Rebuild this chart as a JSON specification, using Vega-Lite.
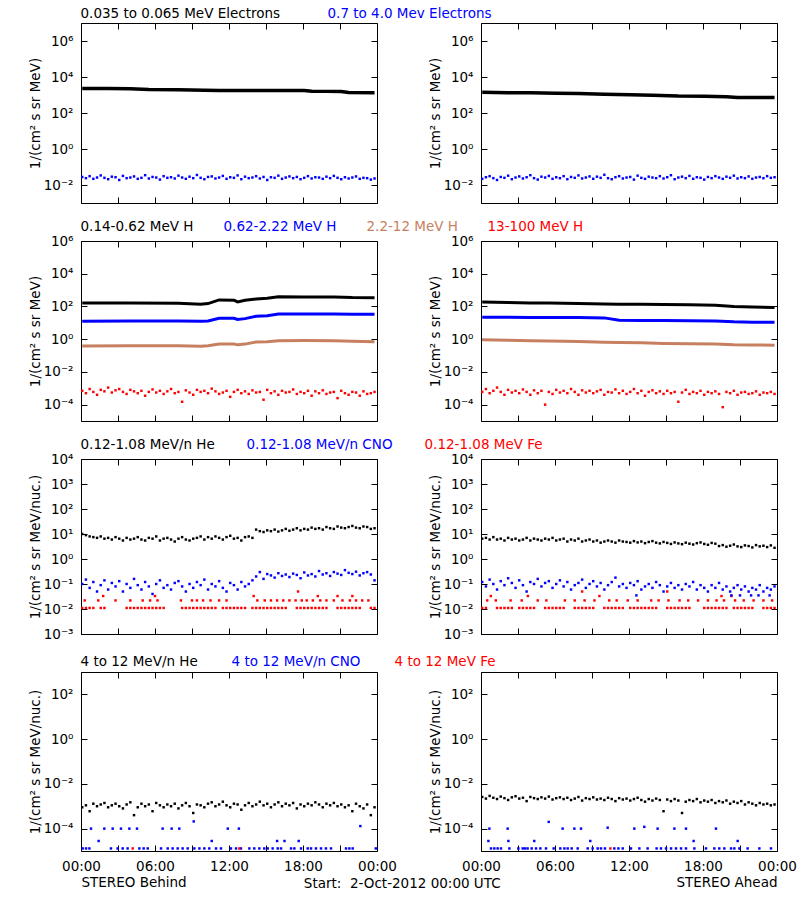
{
"$schema": "https://vega.github.io/schema/vega-lite/v6.json",
"padding": {"left": 27, "top": 7, "right": 6, "bottom": 6},
"background": "white",
"title": {"text": "Start:\u00a0\u00a02-Oct-2012 00:00 UTC", "orient": "bottom", "anchor": "middle", "offset": -12, "dx": -10, "fontSize": 13.5, "fontWeight": "normal", "font": "DejaVu Sans", "color": "#000000"},
"datasets": {
"r1L": [
{"t":0.1,"a":2300,"b":0.028},{"t":0.4,"b":0.024},{"t":0.7,"b":0.031},{"t":1.0,"b":0.022},{"t":1.3,"b":0.026},{"t":1.6,"b":0.034},{"t":1.9,"b":0.025},{"t":2.2,"a":2300,"b":0.021},{"t":2.5,"b":0.029},{"t":2.8,"b":0.027},
{"t":3.1,"b":0.019},{"t":3.4,"b":0.032},{"t":3.7,"b":0.024},{"t":4.0,"a":2250,"b":0.026},{"t":4.3,"b":0.030},{"t":4.6,"b":0.022},{"t":4.9,"b":0.025},{"t":5.2,"b":0.035},{"t":5.5,"a":2050,"b":0.023},{"t":5.8,"b":0.028},
{"t":6.1,"b":0.026},{"t":6.4,"b":0.020},{"t":6.7,"b":0.031},{"t":7.0,"b":0.025},{"t":7.3,"b":0.027},{"t":7.6,"b":0.023},{"t":7.9,"a":1950,"b":0.033},{"t":8.2,"b":0.026},{"t":8.5,"b":0.022},{"t":8.8,"b":0.029},
{"t":9.1,"b":0.024},{"t":9.4,"b":0.036},{"t":9.7,"b":0.025},{"t":10.0,"a":1850,"b":0.021},{"t":10.3,"b":0.028},{"t":10.6,"b":0.030},{"t":10.9,"b":0.023},{"t":11.2,"a":1800,"b":0.026},{"t":11.5,"b":0.032},{"t":11.8,"b":0.022},
{"t":12.1,"b":0.027},{"t":12.4,"b":0.025},{"t":12.7,"b":0.034},{"t":13.0,"a":1800,"b":0.021},{"t":13.3,"b":0.029},{"t":13.6,"b":0.024},{"t":13.9,"b":0.026},{"t":14.2,"b":0.031},{"t":14.5,"b":0.023},{"t":14.8,"a":1780,"b":0.028},
{"t":15.1,"b":0.019},{"t":15.4,"b":0.027},{"t":15.7,"b":0.025},{"t":16.0,"b":0.033},{"t":16.3,"b":0.022},{"t":16.6,"b":0.026},{"t":16.9,"a":1760,"b":0.030},{"t":17.2,"b":0.024},{"t":17.5,"b":0.028},{"t":17.8,"b":0.021},
{"t":18.1,"a":1760,"b":0.025},{"t":18.4,"b":0.031},{"t":18.7,"a":1600,"b":0.023},{"t":19.0,"b":0.027},{"t":19.3,"b":0.026},{"t":19.6,"b":0.022},{"t":19.9,"a":1590,"b":0.029},{"t":20.2,"b":0.024},{"t":20.5,"b":0.032},{"t":20.8,"b":0.025},
{"t":21.1,"a":1560,"b":0.021},{"t":21.4,"b":0.027},{"t":21.7,"a":1370,"b":0.023},{"t":22.0,"b":0.026},{"t":22.3,"b":0.030},{"t":22.6,"b":0.022},{"t":22.9,"b":0.025},{"t":23.2,"b":0.024},{"t":23.5,"b":0.020},{"t":23.8,"a":1330,"b":0.023}
],
"r1R": [
{"t":0.1,"a":1400,"b":0.022},{"t":0.4,"b":0.027},{"t":0.7,"b":0.031},{"t":1.0,"b":0.024},{"t":1.3,"b":0.019},{"t":1.6,"b":0.028},{"t":1.9,"b":0.025},{"t":2.2,"a":1350,"b":0.033},{"t":2.5,"b":0.021},{"t":2.8,"b":0.026},
{"t":3.1,"b":0.030},{"t":3.4,"b":0.023},{"t":3.7,"b":0.027},{"t":4.0,"a":1320,"b":0.035},{"t":4.3,"b":0.024},{"t":4.6,"b":0.020},{"t":4.9,"b":0.029},{"t":5.2,"b":0.026},{"t":5.5,"b":0.032},{"t":5.8,"b":0.022},
{"t":6.1,"a":1250,"b":0.027},{"t":6.4,"b":0.024},{"t":6.7,"b":0.031},{"t":7.0,"b":0.021},{"t":7.3,"b":0.028},{"t":7.6,"b":0.025},{"t":7.9,"a":1200,"b":0.034},{"t":8.2,"b":0.023},{"t":8.5,"b":0.026},{"t":8.8,"b":0.030},
{"t":9.1,"b":0.022},{"t":9.4,"b":0.029},{"t":9.7,"b":0.025},{"t":10.0,"a":1100,"b":0.037},{"t":10.3,"b":0.024},{"t":10.6,"b":0.021},{"t":10.9,"b":0.027},{"t":11.2,"b":0.031},{"t":11.5,"b":0.023},{"t":11.8,"b":0.026},
{"t":12.1,"a":1030,"b":0.028},{"t":12.4,"b":0.020},{"t":12.7,"b":0.033},{"t":13.0,"b":0.025},{"t":13.3,"b":0.022},{"t":13.6,"b":0.029},{"t":13.9,"a":980,"b":0.026},{"t":14.2,"b":0.024},{"t":14.5,"b":0.031},{"t":14.8,"b":0.023},
{"t":15.1,"b":0.027},{"t":15.4,"b":0.035},{"t":15.7,"b":0.021},{"t":16.0,"a":880,"b":0.026},{"t":16.3,"b":0.029},{"t":16.6,"b":0.024},{"t":16.9,"b":0.032},{"t":17.2,"b":0.022},{"t":17.5,"b":0.027},{"t":17.8,"b":0.025},
{"t":18.1,"a":860,"b":0.020},{"t":18.4,"b":0.028},{"t":18.7,"b":0.024},{"t":19.0,"b":0.031},{"t":19.3,"b":0.026},{"t":19.6,"b":0.022},{"t":19.9,"a":800,"b":0.029},{"t":20.2,"b":0.025},{"t":20.5,"b":0.033},{"t":20.8,"a":720,"b":0.023},
{"t":21.1,"b":0.027},{"t":21.4,"b":0.024},{"t":21.7,"b":0.030},{"t":22.0,"b":0.022},{"t":22.3,"b":0.026},{"t":22.6,"b":0.028},{"t":22.9,"b":0.024},{"t":23.2,"b":0.031},{"t":23.5,"b":0.025},{"t":23.8,"a":720,"b":0.027}
],
"r2L": [
{"t":0.1,"a":160,"b":12.5,"c":0.38,"d":0.0007},{"t":0.4,"d":0.0005},{"t":0.7,"d":0.0009},{"t":1.0,"d":0.0006},{"t":1.3,"d":0.0004},{"t":1.6,"d":0.0008},{"t":1.9,"d":0.00065},{"t":2.2,"d":0.0011},{"t":2.5,"d":0.00055},{"t":2.8,"d":0.00075},
{"t":3.1,"d":0.0009},{"t":3.4,"d":0.0006},{"t":3.7,"d":0.00045},{"t":4.0,"a":160,"b":13,"c":0.40,"d":0.0008},{"t":4.3,"d":0.00065},{"t":4.6,"d":0.0005},{"t":4.9,"d":0.0007},{"t":5.2,"d":0.00035},{"t":5.5,"d":0.0006},{"t":5.8,"d":0.00085},
{"t":6.1,"d":0.00055},{"t":6.4,"d":0.0007},{"t":6.7,"d":0.00045},{"t":7.0,"d":0.00065},{"t":7.3,"d":0.0009},{"t":7.6,"d":0.0005},{"t":7.9,"a":155,"b":12.8,"c":0.40,"d":0.0006},{"t":8.2,"d":0.00015},{"t":8.5,"d":0.00075},{"t":8.8,"d":0.00055},
{"t":9.1,"d":0.0004},{"t":9.4,"d":0.0008},{"t":9.7,"a":135,"b":12.3,"c":0.37,"d":0.0006},{"t":10.0,"d":0.0007},{"t":10.3,"a":150,"b":13,"c":0.40,"d":0.0005},{"t":10.6,"d":0.00095},{"t":10.9,"d":0.00065},{"t":11.2,"a":250,"b":19,"c":0.50,"d":0.00045},{"t":11.5,"d":0.00055},{"t":11.8,"d":0.0007},
{"t":12.1,"d":0.0003},{"t":12.4,"a":240,"b":19,"c":0.50,"d":0.0006},{"t":12.7,"a":190,"b":16,"c":0.45,"d":0.0008},{"t":13.0,"d":0.0005},{"t":13.3,"a":240,"b":18,"c":0.50,"d":0.00065},{"t":13.6,"d":0.00045},{"t":13.9,"d":0.00075},{"t":14.2,"a":290,"b":25,"c":0.68,"d":0.00055},{"t":14.5,"d":0.0006},{"t":14.8,"d":0.0002},
{"t":15.1,"a":320,"b":27,"c":0.70,"d":0.0008},{"t":15.4,"d":0.0005},{"t":15.7,"d":0.00065},{"t":16.0,"a":390,"b":34,"c":0.80,"d":0.0004},{"t":16.3,"d":0.0007},{"t":16.6,"d":0.00055},{"t":16.9,"d":0.0006},{"t":17.2,"d":0.00085},{"t":17.5,"d":0.00045},{"t":17.8,"d":0.0006},
{"t":18.1,"a":380,"b":34,"c":0.82,"d":0.0005},{"t":18.4,"d":0.0007},{"t":18.7,"d":0.00035},{"t":19.0,"d":0.00065},{"t":19.3,"d":0.0005},{"t":19.6,"d":0.00075},{"t":19.9,"d":0.00045},{"t":20.2,"d":0.00055},{"t":20.5,"a":380,"b":34,"c":0.80,"d":0.0006},{"t":20.8,"d":0.00025},
{"t":21.1,"d":0.0007},{"t":21.4,"d":0.0005},{"t":21.7,"d":0.0004},{"t":22.0,"a":350,"b":33,"c":0.75,"d":0.0006},{"t":22.3,"d":0.00055},{"t":22.6,"d":0.00035},{"t":22.9,"d":0.00065},{"t":23.2,"d":0.00045},{"t":23.5,"d":0.0005},{"t":23.8,"a":340,"b":33,"c":0.70,"d":0.0006}
],
"r2R": [
{"t":0.1,"a":185,"b":22,"c":0.92,"d":0.0006},{"t":0.4,"d":0.0009},{"t":0.7,"d":0.0005},{"t":1.0,"d":0.0007},{"t":1.3,"d":0.0011},{"t":1.6,"d":0.0006},{"t":1.9,"d":0.0004},{"t":2.2,"a":175,"b":21.8,"c":0.85,"d":0.0008},{"t":2.5,"d":0.00055},{"t":2.8,"d":0.0007},
{"t":3.1,"d":0.0005},{"t":3.4,"d":0.00085},{"t":3.7,"d":0.0006},{"t":4.0,"a":165,"b":21.5,"c":0.80,"d":0.0004},{"t":4.3,"d":0.00075},{"t":4.6,"d":0.0005},{"t":4.9,"d":0.0007},{"t":5.2,"d":0.0001},{"t":5.5,"a":160,"b":21.2,"c":0.78,"d":0.0006},{"t":5.8,"d":0.00045},
{"t":6.1,"d":0.0008},{"t":6.4,"d":0.00055},{"t":6.7,"d":0.0007},{"t":7.0,"d":0.0005},{"t":7.3,"d":0.0009},{"t":7.6,"d":0.0006},{"t":7.9,"a":150,"b":21,"c":0.72,"d":0.0004},{"t":8.2,"d":0.00075},{"t":8.5,"d":0.00055},{"t":8.8,"d":0.0007},
{"t":9.1,"d":0.0005},{"t":9.4,"d":0.00065},{"t":9.7,"d":0.0008},{"t":10.0,"a":142,"b":20,"c":0.66,"d":0.0004},{"t":10.3,"d":0.0006},{"t":10.6,"d":0.00055},{"t":10.9,"d":0.00085},{"t":11.2,"a":138,"b":14.5,"c":0.62,"d":0.0005},{"t":11.5,"d":0.0007},{"t":11.8,"d":0.00045},
{"t":12.1,"d":0.0006},{"t":12.4,"d":0.0009},{"t":12.7,"d":0.0005},{"t":13.0,"a":135,"b":14,"c":0.60,"d":0.0007},{"t":13.3,"d":0.00035},{"t":13.6,"d":0.0006},{"t":13.9,"d":0.00075},{"t":14.2,"d":0.0005},{"t":14.5,"d":0.00065},{"t":14.8,"a":130,"b":14,"c":0.55,"d":0.00045},
{"t":15.1,"d":0.0007},{"t":15.4,"d":0.0005},{"t":15.7,"d":0.0006},{"t":16.0,"d":0.00015},{"t":16.3,"d":0.00055},{"t":16.6,"d":0.0008},{"t":16.9,"a":125,"b":13.5,"c":0.52,"d":0.00045},{"t":17.2,"d":0.0006},{"t":17.5,"d":0.0005},{"t":17.8,"d":0.0007},
{"t":18.1,"d":0.0004},{"t":18.4,"d":0.0006},{"t":18.7,"d":0.0005},{"t":19.0,"a":118,"b":13,"c":0.50,"d":0.00065},{"t":19.3,"d":0.00045},{"t":19.6,"d":0.00007},{"t":19.9,"d":0.0006},{"t":20.2,"d":0.0005},{"t":20.5,"a":100,"b":11.5,"c":0.45,"d":0.0007},{"t":20.8,"d":0.0004},
{"t":21.1,"d":0.00055},{"t":21.4,"d":0.0006},{"t":21.7,"d":0.00045},{"t":22.0,"a":92,"b":11,"c":0.44,"d":0.0005},{"t":22.3,"d":0.00065},{"t":22.6,"d":0.0004},{"t":22.9,"d":0.00055},{"t":23.2,"d":0.0005},{"t":23.5,"d":0.0006},{"t":23.8,"a":85,"b":11,"c":0.43,"d":0.00045}
],
"r3L": [
{"t":0.1,"a":10,"b":0.1,"c":0.011},{"t":0.4,"a":9,"b":0.15,"c":0.011},{"t":0.7,"a":8,"b":0.07,"c":0.011},{"t":1.0,"a":7.5,"b":0.12,"c":0.011},{"t":1.3,"a":7,"b":0.05},{"t":1.6,"a":8,"b":0.09,"c":0.011},{"t":1.9,"a":6.5,"b":0.14,"c":0.011},{"t":2.2,"a":7,"b":0.06},{"t":2.5,"a":6,"b":0.11},{"t":2.8,"a":7.5,"b":0.08},
{"t":3.1,"a":6.5,"b":0.13},{"t":3.4,"a":5.5,"b":0.05},{"t":3.7,"a":7,"b":0.1,"c":0.011},{"t":4.0,"a":6,"b":0.07,"c":0.011},{"t":4.3,"a":6.5,"b":0.16,"c":0.011},{"t":4.6,"a":7.5,"b":0.09,"c":0.011},{"t":4.9,"a":6,"b":0.06,"c":0.011},{"t":5.2,"a":5.5,"b":0.12,"c":0.011},{"t":5.5,"a":7,"b":0.08,"c":0.011},{"t":5.8,"a":6.5,"b":0.04,"c":0.011},
{"t":6.1,"a":8,"b":0.1,"c":0.011},{"t":6.4,"a":5.5,"b":0.14,"c":0.011},{"t":6.7,"a":6.5,"b":0.07,"c":0.011},{"t":7.0,"a":7,"b":0.09},{"t":7.3,"a":6,"b":0.06},{"t":7.6,"a":5,"b":0.11},{"t":7.9,"a":6.5,"b":0.13},{"t":8.2,"a":7.5,"b":0.08,"c":0.011},{"t":8.5,"a":6,"b":0.05,"c":0.011},{"t":8.8,"a":5.5,"b":0.1,"c":0.011},
{"t":9.1,"a":6.5,"b":0.07,"c":0.011},{"t":9.4,"a":7,"b":0.12,"c":0.011},{"t":9.7,"a":8,"b":0.09,"c":0.011},{"t":10.0,"a":6,"b":0.15,"c":0.011},{"t":10.3,"a":7.5,"b":0.06,"c":0.011},{"t":10.6,"a":6.5,"b":0.1,"c":0.011},{"t":10.9,"a":8,"b":0.08,"c":0.011},{"t":11.2,"a":7,"b":0.13},{"t":11.5,"a":6,"b":0.07,"c":0.011},{"t":11.8,"a":7.5,"b":0.05,"c":0.011},
{"t":12.1,"a":8.5,"b":0.11,"c":0.011},{"t":12.4,"a":6.5,"b":0.09,"c":0.011},{"t":12.7,"a":7,"b":0.06,"c":0.011},{"t":13.0,"a":5.5,"b":0.12,"c":0.011},{"t":13.3,"a":7.5,"b":0.08,"c":0.011},{"t":13.6,"a":8,"b":0.1},{"t":13.9,"a":7,"b":0.14,"c":0.011},{"t":14.2,"a":15,"b":0.2,"c":0.011},{"t":14.5,"a":13,"b":0.3,"c":0.011},{"t":14.8,"a":12,"b":0.16,"c":0.011},
{"t":15.1,"a":14,"b":0.25,"c":0.011},{"t":15.4,"a":13,"b":0.22,"c":0.011},{"t":15.7,"a":15,"b":0.18,"c":0.011},{"t":16.0,"a":12.5,"b":0.27,"c":0.011},{"t":16.3,"a":14,"b":0.21,"c":0.011},{"t":16.6,"a":16,"b":0.24,"c":0.011},{"t":16.9,"a":13.5,"b":0.19},{"t":17.2,"a":15,"b":0.26},{"t":17.5,"a":17,"b":0.23,"c":0.011},{"t":17.8,"a":14,"b":0.17,"c":0.011},
{"t":18.1,"a":16,"b":0.29,"c":0.011},{"t":18.4,"a":15,"b":0.22,"c":0.011},{"t":18.7,"a":18,"b":0.25,"c":0.011},{"t":19.0,"a":16,"b":0.2,"c":0.011},{"t":19.3,"a":17,"b":0.33,"c":0.011},{"t":19.6,"a":15,"b":0.24,"c":0.011},{"t":19.9,"a":19,"b":0.27,"c":0.011},{"t":20.2,"a":17,"b":0.21},{"t":20.5,"a":16,"b":0.3},{"t":20.8,"a":20,"b":0.26,"c":0.011},
{"t":21.1,"a":18,"b":0.23,"c":0.011},{"t":21.4,"a":17,"b":0.36,"c":0.011},{"t":21.7,"a":19,"b":0.28,"c":0.011},{"t":22.0,"a":21,"b":0.25,"c":0.011},{"t":22.3,"a":18,"b":0.31,"c":0.011},{"t":22.6,"a":17,"b":0.22,"c":0.011},{"t":22.9,"a":20,"b":0.27},{"t":23.2,"a":19,"b":0.3},{"t":23.5,"a":16,"b":0.24,"c":0.011},{"t":23.8,"a":17,"b":0.14,"c":0.011},
{"t":0.3,"c":0.022},{"t":1.4,"c":0.022},{"t":2.8,"c":0.022},{"t":4.0,"c":0.022},{"t":5.0,"c":0.022},{"t":5.6,"c":0.022},{"t":6.2,"c":0.022},{"t":8.1,"c":0.022},{"t":9.0,"c":0.022},{"t":9.4,"c":0.022},{"t":9.9,"c":0.022},{"t":10.5,"c":0.022},{"t":11.2,"c":0.022},{"t":11.8,"c":0.022},{"t":14.3,"c":0.022},{"t":14.9,"c":0.022},{"t":15.4,"c":0.022},{"t":15.9,"c":0.022},{"t":16.4,"c":0.022},{"t":16.9,"c":0.022},{"t":17.4,"c":0.022},{"t":17.9,"c":0.022},{"t":18.3,"c":0.022},{"t":18.8,"c":0.022},{"t":19.4,"c":0.022},{"t":19.9,"c":0.022},{"t":20.5,"c":0.022},{"t":21.2,"c":0.022},{"t":21.8,"c":0.022},{"t":22.3,"c":0.022},{"t":22.8,"c":0.022},{"t":23.3,"c":0.022},
{"t":1.8,"c":0.033},{"t":6.0,"c":0.033},{"t":14.0,"c":0.033},{"t":19.2,"c":0.033},{"t":20.8,"c":0.033},{"t":22.0,"c":0.033},{"t":17.6,"c":0.05}
],
"r3R": [
{"t":0.1,"a":6.5,"b":0.12,"c":0.011},{"t":0.4,"a":7,"b":0.08,"c":0.011},{"t":0.7,"a":6,"b":0.15},{"t":1.0,"a":7.5,"b":0.1},{"t":1.3,"a":6,"b":0.06,"c":0.011},{"t":1.6,"a":6.5,"b":0.13,"c":0.011},{"t":1.9,"a":5.5,"b":0.09,"c":0.011},{"t":2.2,"a":7,"b":0.17,"c":0.011},{"t":2.5,"a":6,"b":0.11,"c":0.011},{"t":2.8,"a":6.5,"b":0.07},
{"t":3.1,"a":5.5,"b":0.14,"c":0.011},{"t":3.4,"a":6,"b":0.09,"c":0.011},{"t":3.7,"a":7,"b":0.05,"c":0.011},{"t":4.0,"a":5.5,"b":0.12,"c":0.011},{"t":4.3,"a":6.5,"b":0.1,"c":0.011},{"t":4.6,"a":6,"b":0.16},{"t":4.9,"a":5.5,"b":0.08},{"t":5.2,"a":6.5,"b":0.11,"c":0.011},{"t":5.5,"a":6,"b":0.13,"c":0.011},{"t":5.8,"a":7,"b":0.07,"c":0.011},
{"t":6.1,"a":5.5,"b":0.1,"c":0.011},{"t":6.4,"a":6,"b":0.14,"c":0.011},{"t":6.7,"a":6.5,"b":0.08,"c":0.011},{"t":7.0,"a":5,"b":0.12},{"t":7.3,"a":6,"b":0.06},{"t":7.6,"a":5.5,"b":0.09,"c":0.011},{"t":7.9,"a":6.5,"b":0.11,"c":0.011},{"t":8.2,"a":5,"b":0.15,"c":0.011},{"t":8.5,"a":5.5,"b":0.07,"c":0.011},{"t":8.8,"a":6,"b":0.1,"c":0.011},
{"t":9.1,"a":5,"b":0.13,"c":0.011},{"t":9.4,"a":5.5,"b":0.08},{"t":9.7,"a":4.5,"b":0.11},{"t":10.0,"a":5,"b":0.06,"c":0.011},{"t":10.3,"a":5.5,"b":0.09,"c":0.011},{"t":10.6,"a":5,"b":0.12,"c":0.011},{"t":10.9,"a":4.5,"b":0.18,"c":0.011},{"t":11.2,"a":5.5,"b":0.08,"c":0.011},{"t":11.5,"a":5,"b":0.1,"c":0.011},{"t":11.8,"a":4.8,"b":0.07},
{"t":12.1,"a":4.5,"b":0.11,"c":0.011},{"t":12.4,"a":5.2,"b":0.09,"c":0.011},{"t":12.7,"a":4.6,"b":0.13,"c":0.011},{"t":13.0,"a":5,"b":0.06,"c":0.011},{"t":13.3,"a":4.3,"b":0.08,"c":0.011},{"t":13.6,"a":4.8,"b":0.1,"c":0.011},{"t":13.9,"a":5.2,"b":0.07,"c":0.011},{"t":14.2,"a":4.5,"b":0.12,"c":0.011},{"t":14.5,"a":4.2,"b":0.09},{"t":14.8,"a":4.8,"b":0.05},
{"t":15.1,"a":4.4,"b":0.08,"c":0.011},{"t":15.4,"a":4,"b":0.11,"c":0.011},{"t":15.7,"a":4.6,"b":0.07,"c":0.011},{"t":16.0,"a":4.2,"b":0.09,"c":0.011},{"t":16.3,"a":3.9,"b":0.06,"c":0.011},{"t":16.6,"a":4.5,"b":0.1,"c":0.011},{"t":16.9,"a":4.1,"b":0.08,"c":0.011},{"t":17.2,"a":3.8,"b":0.12},{"t":17.5,"a":4.3,"b":0.06},{"t":17.8,"a":4.6,"b":0.09},
{"t":18.1,"a":4,"b":0.07,"c":0.011},{"t":18.4,"a":3.7,"b":0.05,"c":0.011},{"t":18.7,"a":4.4,"b":0.09,"c":0.011},{"t":19.0,"a":4.1,"b":0.07,"c":0.011},{"t":19.3,"a":3.3,"b":0.11,"c":0.011},{"t":19.6,"a":3.6,"b":0.06,"c":0.011},{"t":19.9,"a":3.1,"b":0.08,"c":0.011},{"t":20.2,"a":3.4,"b":0.05},{"t":20.5,"a":3.8,"b":0.07,"c":0.011},{"t":20.8,"a":3.2,"b":0.09,"c":0.011},
{"t":21.1,"a":3,"b":0.06,"c":0.011},{"t":21.4,"a":3.5,"b":0.08,"c":0.011},{"t":21.7,"a":3.3,"b":0.05,"c":0.011},{"t":22.0,"a":2.9,"b":0.07,"c":0.011},{"t":22.3,"a":3.6,"b":0.06},{"t":22.6,"a":3.2,"b":0.09},{"t":22.9,"a":3.4,"b":0.05,"c":0.011},{"t":23.2,"a":3,"b":0.07,"c":0.011},{"t":23.5,"a":3.5,"b":0.06,"c":0.011},{"t":23.8,"a":2.8,"b":0.08,"c":0.011},
{"t":0.5,"c":0.022},{"t":1.2,"c":0.022},{"t":2.4,"c":0.022},{"t":3.3,"c":0.022},{"t":4.6,"c":0.022},{"t":5.3,"c":0.022},{"t":6.8,"c":0.022},{"t":7.6,"c":0.022},{"t":8.4,"c":0.022},{"t":9.2,"c":0.022},{"t":10.4,"c":0.022},{"t":11.0,"c":0.022},{"t":11.9,"c":0.022},{"t":12.7,"c":0.022},{"t":13.8,"c":0.022},{"t":14.4,"c":0.022},{"t":15.2,"c":0.022},{"t":16.1,"c":0.022},{"t":16.8,"c":0.022},{"t":17.6,"c":0.022},{"t":18.4,"c":0.022},{"t":19.1,"c":0.022},{"t":19.7,"c":0.022},{"t":20.6,"c":0.022},{"t":21.3,"c":0.022},{"t":22.1,"c":0.022},{"t":22.9,"c":0.022},{"t":23.6,"c":0.022},
{"t":0.8,"c":0.033},{"t":3.8,"c":0.033},{"t":9.6,"c":0.033},{"t":19.5,"c":0.033},{"t":20.3,"c":0.033},{"t":8.2,"c":0.05},{"t":15.1,"c":0.05},
{"t":12.6,"b":0.035},{"t":20.3,"b":0.035},{"t":21.0,"b":0.035},{"t":21.9,"b":0.035},{"t":22.5,"b":0.035},{"t":23.4,"b":0.035}
],
"r4L": [
{"t":0.1,"a":0.0009},{"t":0.4,"a":0.0011},{"t":0.7,"a":0.0006},{"t":1.0,"a":0.0013},{"t":1.3,"a":0.001},{"t":1.6,"a":0.0012},{"t":1.9,"a":0.0014},{"t":2.2,"a":0.0009},{"t":2.5,"a":0.0011},{"t":2.8,"a":0.0013},
{"t":3.1,"a":0.001},{"t":3.4,"a":0.0008},{"t":3.7,"a":0.0012},{"t":4.0,"a":0.0015},{"t":4.3,"a":0.0004},{"t":4.6,"a":0.0009},{"t":4.9,"a":0.0013},{"t":5.2,"a":0.001},{"t":5.5,"a":0.0012},{"t":5.8,"a":0.0006},
{"t":6.1,"a":0.0014},{"t":6.4,"a":0.0011},{"t":6.7,"a":0.0009},{"t":7.0,"a":0.0012},{"t":7.3,"a":0.001},{"t":7.6,"a":0.0013},{"t":7.9,"a":0.0008},{"t":8.2,"a":0.0011},{"t":8.5,"a":0.0014},{"t":8.8,"a":0.001},
{"t":9.1,"a":0.0005},{"t":9.4,"a":0.0012},{"t":9.7,"a":0.0011},{"t":10.0,"a":0.0009},{"t":10.3,"a":0.0013},{"t":10.6,"a":0.0015},{"t":10.9,"a":0.001},{"t":11.2,"a":0.0012},{"t":11.5,"a":0.0016},{"t":11.8,"a":0.0011},
{"t":12.1,"a":0.0009},{"t":12.4,"a":0.0013},{"t":12.7,"a":0.0012},{"t":13.0,"a":0.0007},{"t":13.3,"a":0.0011},{"t":13.6,"a":0.0014},{"t":13.9,"a":0.001},{"t":14.2,"a":0.0012},{"t":14.5,"a":0.0016},{"t":14.8,"a":0.0011},
{"t":15.1,"a":0.0013},{"t":15.4,"a":0.0009},{"t":15.7,"a":0.0012},{"t":16.0,"a":0.0015},{"t":16.3,"a":0.001},{"t":16.6,"a":0.0013},{"t":16.9,"a":0.0011},{"t":17.2,"a":0.0014},{"t":17.5,"a":0.0008},{"t":17.8,"a":0.0012},
{"t":18.1,"a":0.001},{"t":18.4,"a":0.0013},{"t":18.7,"a":0.0011},{"t":19.0,"a":0.0015},{"t":19.3,"a":0.0012},{"t":19.6,"a":0.0009},{"t":19.9,"a":0.0013},{"t":20.2,"a":0.0011},{"t":20.5,"a":0.0014},{"t":20.8,"a":0.001},
{"t":21.1,"a":0.0012},{"t":21.4,"a":0.0009},{"t":21.7,"a":0.0011},{"t":22.0,"a":0.0006},{"t":22.3,"a":0.0013},{"t":22.6,"a":0.001},{"t":22.9,"a":0.0008},{"t":23.2,"a":0.0012},{"t":23.5,"a":0.0004},{"t":23.8,"a":0.0009},
{"t":0.81,"b":0.0001},{"t":1.89,"b":0.0001},{"t":2.57,"b":0.0001},{"t":3.24,"b":0.0001},{"t":3.92,"b":0.0001},{"t":4.54,"b":0.0001},{"t":6.62,"b":0.0001},{"t":7.35,"b":0.0001},{"t":7.97,"b":0.0001},{"t":11.9,"b":0.0001},{"t":12.8,"b":0.0001},{"t":9.14,"b":0.00021},{"t":22.65,"b":0.00013},
{"t":1.43,"b":0.000028},{"t":10.6,"b":0.000028},{"t":15.9,"b":0.000028},{"t":16.5,"b":0.000028},{"t":17.65,"b":0.000028},
{"t":0.14,"b":0.000013},{"t":0.41,"b":0.000013},{"t":0.68,"b":0.000013},{"t":2.43,"b":0.000013},{"t":2.97,"b":0.000013},{"t":3.38,"b":0.000013},{"t":3.78,"b":0.000013},{"t":4.73,"b":0.000013},{"t":5.08,"b":0.000013},{"t":5.41,"b":0.000013},{"t":6.49,"b":0.000013},{"t":7.03,"b":0.000013},{"t":7.43,"b":0.000013},{"t":7.84,"b":0.000013},{"t":8.24,"b":0.000013},{"t":8.65,"b":0.000013},{"t":9.19,"b":0.000013},{"t":9.6,"b":0.000013},{"t":10.0,"b":0.000013},{"t":10.4,"b":0.000013},{"t":10.95,"b":0.000013},{"t":11.35,"b":0.000013},{"t":12.16,"b":0.000013},{"t":12.57,"b":0.000013},{"t":12.97,"b":0.000013},{"t":13.65,"b":0.000013},{"t":14.05,"b":0.000013},{"t":14.46,"b":0.000013},{"t":14.86,"b":0.000013},{"t":15.14,"b":0.000013},{"t":15.54,"b":0.000013},{"t":15.95,"b":0.000013},{"t":16.22,"b":0.000013},{"t":17.03,"b":0.000013},{"t":17.3,"b":0.000013},{"t":17.84,"b":0.000013},{"t":18.38,"b":0.000013},{"t":18.65,"b":0.000013},{"t":19.05,"b":0.000013},{"t":19.46,"b":0.000013},{"t":19.86,"b":0.000013},{"t":20.27,"b":0.000013},{"t":21.49,"b":0.000013},{"t":21.76,"b":0.000013},{"t":22.03,"b":0.000013},{"t":23.9,"b":0.000013},
{"t":4.19,"c":0.000013},{"t":12.84,"c":0.000013}
],
"r4R": [
{"t":0.1,"a":0.0026},{"t":0.4,"a":0.0022},{"t":0.7,"a":0.0029},{"t":1.0,"a":0.0024},{"t":1.3,"a":0.0021},{"t":1.6,"a":0.0027},{"t":1.9,"a":0.0023},{"t":2.2,"a":0.0019},{"t":2.5,"a":0.0025},{"t":2.8,"a":0.0028},
{"t":3.1,"a":0.0022},{"t":3.4,"a":0.0024},{"t":3.7,"a":0.0017},{"t":4.0,"a":0.0026},{"t":4.3,"a":0.0023},{"t":4.6,"a":0.0021},{"t":4.9,"a":0.0025},{"t":5.2,"a":0.0022},{"t":5.5,"a":0.0027},{"t":5.8,"a":0.0020},
{"t":6.1,"a":0.0023},{"t":6.4,"a":0.0025},{"t":6.7,"a":0.0021},{"t":7.0,"a":0.0024},{"t":7.3,"a":0.0019},{"t":7.6,"a":0.0022},{"t":7.9,"a":0.0026},{"t":8.2,"a":0.0018},{"t":8.5,"a":0.0023},{"t":8.8,"a":0.0021},
{"t":9.1,"a":0.0025},{"t":9.4,"a":0.0020},{"t":9.7,"a":0.0022},{"t":10.0,"a":0.0019},{"t":10.3,"a":0.0024},{"t":10.6,"a":0.0021},{"t":10.9,"a":0.0017},{"t":11.2,"a":0.0023},{"t":11.5,"a":0.0020},{"t":11.8,"a":0.0022},
{"t":12.1,"a":0.0018},{"t":12.4,"a":0.0021},{"t":12.7,"a":0.0024},{"t":13.0,"a":0.0019},{"t":13.3,"a":0.0016},{"t":13.6,"a":0.0021},{"t":13.9,"a":0.0018},{"t":14.2,"a":0.0022},{"t":14.5,"a":0.0019},{"t":14.8,"a":0.0006},
{"t":15.1,"a":0.0020},{"t":15.4,"a":0.0017},{"t":15.7,"a":0.0021},{"t":16.0,"a":0.0018},{"t":16.3,"a":0.0005},{"t":16.6,"a":0.0016},{"t":16.9,"a":0.0019},{"t":17.2,"a":0.0017},{"t":17.5,"a":0.0021},{"t":17.8,"a":0.0015},
{"t":18.1,"a":0.0018},{"t":18.4,"a":0.0016},{"t":18.7,"a":0.0019},{"t":19.0,"a":0.0014},{"t":19.3,"a":0.0017},{"t":19.6,"a":0.0015},{"t":19.9,"a":0.0018},{"t":20.2,"a":0.0013},{"t":20.5,"a":0.0016},{"t":20.8,"a":0.0014},
{"t":21.1,"a":0.0017},{"t":21.4,"a":0.0012},{"t":21.7,"a":0.0015},{"t":22.0,"a":0.0013},{"t":22.3,"a":0.0011},{"t":22.6,"a":0.0014},{"t":22.9,"a":0.0012},{"t":23.2,"a":0.0013},{"t":23.5,"a":0.0011},{"t":23.8,"a":0.0012},
{"t":0.68,"b":0.0001},{"t":2.16,"b":0.0001},{"t":6.62,"b":0.0001},{"t":7.57,"b":0.0001},{"t":8.11,"b":0.0001},{"t":12.43,"b":0.0001},{"t":14.32,"b":0.0001},{"t":15.68,"b":0.0001},{"t":16.62,"b":0.0001},{"t":19.05,"b":0.0001},{"t":10.27,"b":0.00011},{"t":13.24,"b":0.00012},{"t":5.49,"b":0.0002},
{"t":0.6,"b":0.000028},{"t":2.22,"b":0.000028},{"t":4.32,"b":0.000028},{"t":8.86,"b":0.000028},{"t":17.24,"b":0.000028},{"t":20.81,"b":0.000028},
{"t":0.81,"b":0.000013},{"t":1.08,"b":0.000013},{"t":1.35,"b":0.000013},{"t":1.62,"b":0.000013},{"t":2.3,"b":0.000013},{"t":3.03,"b":0.000013},{"t":3.38,"b":0.000013},{"t":3.57,"b":0.000013},{"t":3.78,"b":0.000013},{"t":4.11,"b":0.000013},{"t":4.46,"b":0.000013},{"t":4.81,"b":0.000013},{"t":5.27,"b":0.000013},{"t":5.89,"b":0.000013},{"t":6.43,"b":0.000013},{"t":6.76,"b":0.000013},{"t":7.03,"b":0.000013},{"t":7.35,"b":0.000013},{"t":7.84,"b":0.000013},{"t":8.65,"b":0.000013},{"t":9.05,"b":0.000013},{"t":9.46,"b":0.000013},{"t":9.73,"b":0.000013},{"t":10.05,"b":0.000013},{"t":10.81,"b":0.000013},{"t":11.14,"b":0.000013},{"t":11.49,"b":0.000013},{"t":12.16,"b":0.000013},{"t":12.84,"b":0.000013},{"t":13.51,"b":0.000013},{"t":14.24,"b":0.000013},{"t":14.59,"b":0.000013},{"t":15.0,"b":0.000013},{"t":15.41,"b":0.000013},{"t":15.81,"b":0.000013},{"t":16.22,"b":0.000013},{"t":16.62,"b":0.000013},{"t":17.3,"b":0.000013},{"t":18.24,"b":0.000013},{"t":18.92,"b":0.000013},{"t":19.32,"b":0.000013},{"t":19.73,"b":0.000013},{"t":20.27,"b":0.000013},{"t":20.54,"b":0.000013},{"t":20.95,"b":0.000013},{"t":21.62,"b":0.000013},{"t":22.57,"b":0.000013},{"t":23.51,"b":0.000013},
{"t":10.49,"c":0.000013}
]
},
"columns": 2,
"spacing": {"row": 38, "column": 104},
"bounds": "flush",
"resolve": {"scale": {"color": "independent"}, "legend": {"color": "independent"}},
"concat": [
 {"width":296,"height":180,"data":{"name":"r1L"},
  "transform":[{"fold":["a","b"],"as":["k","v"]},{"filter":"isValid(datum.v)"}],
  "layer":[
   {"transform":[{"filter":"datum.k == 'a'"}],"mark":{"type":"line","strokeWidth":3.5,"clip":true},
    "encoding":{
     "x":{"field":"t","type":"quantitative","scale":{"domain":[0,24],"nice":false,"zero":false},"axis":{"orient":"bottom","values":[0,3,6,9,12,15,18,21,24],"labels":false,"title":null}},
     "y":{"field":"v","type":"quantitative","scale":{"type":"log","domain":[0.001,10000000],"nice":false},"axis":{"orient":"left","values":[0.01,1,100,10000,1000000],"labelPadding":14,"labelExpr":"'10' + ['⁻⁵','⁻⁴','⁻³','⁻²','⁻¹','⁰','¹','²','³','⁴','⁵','⁶','⁷'][round(log(datum.value) / LN10) + 5]","title":"1/(cm² s sr MeV)","titleX":-46,"titleBaseline":"middle"}},
     "color":{"field":"k","type":"nominal","scale":{"domain":["a","b"],"range":["#000000","#0000ff"]},"legend":{"title":null,"orient":"none","legendX":-14,"legendY":-16,"direction":"horizontal","columnPadding":33,"labelExpr":"datum.value == 'a' ? '0.035 to 0.065 MeV Electrons' : '0.7 to 4.0 Mev Electrons'","labelColor":{"expr":"datum.value == 'a' ? '#000000' : '#0000ff'"}}}}},
   {"transform":[{"filter":"datum.k == 'b'"}],"mark":{"type":"square","size":6,"opacity":1,"clip":true},
    "encoding":{
     "x":{"field":"t","type":"quantitative","scale":{"domain":[0,24],"nice":false,"zero":false},"axis":{"orient":"top","values":[0,3,6,9,12,15,18,21,24],"labels":false,"title":null}},
     "y":{"field":"v","type":"quantitative","scale":{"type":"log","domain":[0.001,10000000],"nice":false},"axis":{"orient":"right","values":[0.01,1,100,10000,1000000],"labels":false,"title":null}},
     "color":{"field":"k","type":"nominal","scale":{"domain":["a","b"],"range":["#000000","#0000ff"]},"legend":null}}}
  ],
  "resolve":{"axis":{"x":"independent","y":"independent"}}},
 {"width":296,"height":180,"data":{"name":"r1R"},
  "transform":[{"fold":["a","b"],"as":["k","v"]},{"filter":"isValid(datum.v)"}],
  "layer":[
   {"transform":[{"filter":"datum.k == 'a'"}],"mark":{"type":"line","strokeWidth":3.5,"clip":true},
    "encoding":{
     "x":{"field":"t","type":"quantitative","scale":{"domain":[0,24],"nice":false,"zero":false},"axis":{"orient":"bottom","values":[0,3,6,9,12,15,18,21,24],"labels":false,"title":null}},
     "y":{"field":"v","type":"quantitative","scale":{"type":"log","domain":[0.001,10000000],"nice":false},"axis":{"orient":"left","values":[0.01,1,100,10000,1000000],"labelPadding":14,"labelExpr":"'10' + ['⁻⁵','⁻⁴','⁻³','⁻²','⁻¹','⁰','¹','²','³','⁴','⁵','⁶','⁷'][round(log(datum.value) / LN10) + 5]","title":"1/(cm² s sr MeV)","titleX":-46,"titleBaseline":"middle"}},
     "color":{"field":"k","type":"nominal","scale":{"domain":["a","b"],"range":["#000000","#0000ff"]},"legend":null}}},
   {"transform":[{"filter":"datum.k == 'b'"}],"mark":{"type":"square","size":6,"opacity":1,"clip":true},
    "encoding":{
     "x":{"field":"t","type":"quantitative","scale":{"domain":[0,24],"nice":false,"zero":false},"axis":{"orient":"top","values":[0,3,6,9,12,15,18,21,24],"labels":false,"title":null}},
     "y":{"field":"v","type":"quantitative","scale":{"type":"log","domain":[0.001,10000000],"nice":false},"axis":{"orient":"right","values":[0.01,1,100,10000,1000000],"labels":false,"title":null}},
     "color":{"field":"k","type":"nominal","scale":{"domain":["a","b"],"range":["#000000","#0000ff"]},"legend":null}}}
  ],
  "resolve":{"axis":{"x":"independent","y":"independent"}}},
 {"width":296,"height":180,"data":{"name":"r2L"},
  "transform":[{"fold":["a","b","c","d"],"as":["k","v"]},{"filter":"isValid(datum.v)"}],
  "layer":[
   {"transform":[{"filter":"datum.k != 'd'"}],"mark":{"type":"line","strokeWidth":3,"clip":true},
    "encoding":{
     "x":{"field":"t","type":"quantitative","scale":{"domain":[0,24],"nice":false,"zero":false},"axis":{"orient":"bottom","values":[0,3,6,9,12,15,18,21,24],"labels":false,"title":null}},
     "y":{"field":"v","type":"quantitative","scale":{"type":"log","domain":[0.00001,1000000],"nice":false},"axis":{"orient":"left","values":[0.0001,0.01,1,100,10000,1000000],"labelPadding":14,"labelExpr":"'10' + ['⁻⁵','⁻⁴','⁻³','⁻²','⁻¹','⁰','¹','²','³','⁴','⁵','⁶','⁷'][round(log(datum.value) / LN10) + 5]","title":"1/(cm² s sr MeV)","titleX":-46,"titleBaseline":"middle"}},
     "color":{"field":"k","type":"nominal","scale":{"domain":["a","b","c","d"],"range":["#000000","#0000ff","#c7805f","#ff0000"]},"legend":{"title":null,"orient":"none","legendX":-14,"legendY":-21,"direction":"horizontal","columnPadding":16,"labelExpr":"datum.value == 'a' ? '0.14-0.62 MeV H' : datum.value == 'b' ? '0.62-2.22 MeV H' : datum.value == 'c' ? '2.2-12 MeV H' : '13-100 MeV H'","labelColor":{"expr":"datum.value == 'a' ? '#000000' : datum.value == 'b' ? '#0000ff' : datum.value == 'c' ? '#c7805f' : '#ff0000'"}}}}},
   {"transform":[{"filter":"datum.k == 'd'"}],"mark":{"type":"square","size":6,"opacity":1,"clip":true},
    "encoding":{
     "x":{"field":"t","type":"quantitative","scale":{"domain":[0,24],"nice":false,"zero":false},"axis":{"orient":"top","values":[0,3,6,9,12,15,18,21,24],"labels":false,"title":null}},
     "y":{"field":"v","type":"quantitative","scale":{"type":"log","domain":[0.00001,1000000],"nice":false},"axis":{"orient":"right","values":[0.0001,0.01,1,100,10000,1000000],"labels":false,"title":null}},
     "color":{"field":"k","type":"nominal","scale":{"domain":["a","b","c","d"],"range":["#000000","#0000ff","#c7805f","#ff0000"]},"legend":null}}}
  ],
  "resolve":{"axis":{"x":"independent","y":"independent"}}},
 {"width":296,"height":180,"data":{"name":"r2R"},
  "transform":[{"fold":["a","b","c","d"],"as":["k","v"]},{"filter":"isValid(datum.v)"}],
  "layer":[
   {"transform":[{"filter":"datum.k != 'd'"}],"mark":{"type":"line","strokeWidth":3,"clip":true},
    "encoding":{
     "x":{"field":"t","type":"quantitative","scale":{"domain":[0,24],"nice":false,"zero":false},"axis":{"orient":"bottom","values":[0,3,6,9,12,15,18,21,24],"labels":false,"title":null}},
     "y":{"field":"v","type":"quantitative","scale":{"type":"log","domain":[0.00001,1000000],"nice":false},"axis":{"orient":"left","values":[0.0001,0.01,1,100,10000,1000000],"labelPadding":14,"labelExpr":"'10' + ['⁻⁵','⁻⁴','⁻³','⁻²','⁻¹','⁰','¹','²','³','⁴','⁵','⁶','⁷'][round(log(datum.value) / LN10) + 5]","title":"1/(cm² s sr MeV)","titleX":-46,"titleBaseline":"middle"}},
     "color":{"field":"k","type":"nominal","scale":{"domain":["a","b","c","d"],"range":["#000000","#0000ff","#c7805f","#ff0000"]},"legend":null}}},
   {"transform":[{"filter":"datum.k == 'd'"}],"mark":{"type":"square","size":6,"opacity":1,"clip":true},
    "encoding":{
     "x":{"field":"t","type":"quantitative","scale":{"domain":[0,24],"nice":false,"zero":false},"axis":{"orient":"top","values":[0,3,6,9,12,15,18,21,24],"labels":false,"title":null}},
     "y":{"field":"v","type":"quantitative","scale":{"type":"log","domain":[0.00001,1000000],"nice":false},"axis":{"orient":"right","values":[0.0001,0.01,1,100,10000,1000000],"labels":false,"title":null}},
     "color":{"field":"k","type":"nominal","scale":{"domain":["a","b","c","d"],"range":["#000000","#0000ff","#c7805f","#ff0000"]},"legend":null}}}
  ],
  "resolve":{"axis":{"x":"independent","y":"independent"}}},
 {"width":296,"height":175,"data":{"name":"r3L"},
  "transform":[{"fold":["a","b","c"],"as":["k","v"]},{"filter":"isValid(datum.v)"}],
  "layer":[
   {"transform":[{"filter":"datum.k == 'a'"}],"mark":{"type":"square","size":6,"opacity":1,"clip":true},
    "encoding":{
     "x":{"field":"t","type":"quantitative","scale":{"domain":[0,24],"nice":false,"zero":false},"axis":{"orient":"bottom","values":[0,3,6,9,12,15,18,21,24],"labels":false,"title":null}},
     "y":{"field":"v","type":"quantitative","scale":{"type":"log","domain":[0.001,10000],"nice":false},"axis":{"orient":"left","values":[0.001,0.01,0.1,1,10,100,1000,10000],"labelPadding":14,"labelExpr":"'10' + ['⁻⁵','⁻⁴','⁻³','⁻²','⁻¹','⁰','¹','²','³','⁴','⁵','⁶','⁷'][round(log(datum.value) / LN10) + 5]","title":"1/(cm² s sr MeV/nuc.)","titleX":-46,"titleBaseline":"middle"}},
     "color":{"field":"k","type":"nominal","scale":{"domain":["a","b","c"],"range":["#000000","#0000ff","#ff0000"]},"legend":{"title":null,"orient":"none","legendX":-14,"legendY":-21,"direction":"horizontal","columnPadding":18,"labelExpr":"datum.value == 'a' ? '0.12-1.08 MeV/n He' : datum.value == 'b' ? '0.12-1.08 MeV/n CNO' : '0.12-1.08 MeV Fe'","labelColor":{"expr":"datum.value == 'a' ? '#000000' : datum.value == 'b' ? '#0000ff' : '#ff0000'"}}}}},
   {"transform":[{"filter":"datum.k != 'a'"}],"mark":{"type":"square","size":6,"opacity":1,"clip":true},
    "encoding":{
     "x":{"field":"t","type":"quantitative","scale":{"domain":[0,24],"nice":false,"zero":false},"axis":{"orient":"top","values":[0,3,6,9,12,15,18,21,24],"labels":false,"title":null}},
     "y":{"field":"v","type":"quantitative","scale":{"type":"log","domain":[0.001,10000],"nice":false},"axis":{"orient":"right","values":[0.001,0.01,0.1,1,10,100,1000,10000],"labels":false,"title":null}},
     "color":{"field":"k","type":"nominal","scale":{"domain":["a","b","c"],"range":["#000000","#0000ff","#ff0000"]},"legend":null}}}
  ],
  "resolve":{"axis":{"x":"independent","y":"independent"}}},
 {"width":296,"height":175,"data":{"name":"r3R"},
  "transform":[{"fold":["a","b","c"],"as":["k","v"]},{"filter":"isValid(datum.v)"}],
  "layer":[
   {"transform":[{"filter":"datum.k == 'a'"}],"mark":{"type":"square","size":6,"opacity":1,"clip":true},
    "encoding":{
     "x":{"field":"t","type":"quantitative","scale":{"domain":[0,24],"nice":false,"zero":false},"axis":{"orient":"bottom","values":[0,3,6,9,12,15,18,21,24],"labels":false,"title":null}},
     "y":{"field":"v","type":"quantitative","scale":{"type":"log","domain":[0.001,10000],"nice":false},"axis":{"orient":"left","values":[0.001,0.01,0.1,1,10,100,1000,10000],"labelPadding":14,"labelExpr":"'10' + ['⁻⁵','⁻⁴','⁻³','⁻²','⁻¹','⁰','¹','²','³','⁴','⁵','⁶','⁷'][round(log(datum.value) / LN10) + 5]","title":"1/(cm² s sr MeV/nuc.)","titleX":-46,"titleBaseline":"middle"}},
     "color":{"field":"k","type":"nominal","scale":{"domain":["a","b","c"],"range":["#000000","#0000ff","#ff0000"]},"legend":null}}},
   {"transform":[{"filter":"datum.k != 'a'"}],"mark":{"type":"square","size":6,"opacity":1,"clip":true},
    "encoding":{
     "x":{"field":"t","type":"quantitative","scale":{"domain":[0,24],"nice":false,"zero":false},"axis":{"orient":"top","values":[0,3,6,9,12,15,18,21,24],"labels":false,"title":null}},
     "y":{"field":"v","type":"quantitative","scale":{"type":"log","domain":[0.001,10000],"nice":false},"axis":{"orient":"right","values":[0.001,0.01,0.1,1,10,100,1000,10000],"labels":false,"title":null}},
     "color":{"field":"k","type":"nominal","scale":{"domain":["a","b","c"],"range":["#000000","#0000ff","#ff0000"]},"legend":null}}}
  ],
  "resolve":{"axis":{"x":"independent","y":"independent"}}},
 {"width":296,"height":179,"data":{"name":"r4L"},
  "transform":[{"fold":["a","b","c"],"as":["k","v"]},{"filter":"isValid(datum.v)"}],
  "layer":[
   {"transform":[{"filter":"datum.k == 'a'"}],"mark":{"type":"square","size":6,"opacity":1,"clip":true},
    "encoding":{
     "x":{"field":"t","type":"quantitative","scale":{"domain":[0,24],"nice":false,"zero":false},"axis":{"orient":"bottom","values":[0,3,6,9,12,15,18,21,24],"labelPadding":14,"labelExpr":"datum.value % 6 == 0 ? (datum.value == 6 ? '06' : datum.value == 12 ? '12' : datum.value == 18 ? '18' : '00') + ':00' : ''","title":"STEREO Behind","titleAnchor":"start","titleAlign":"left","titleY":31,"titleBaseline":"middle"}},
     "y":{"field":"v","type":"quantitative","scale":{"type":"log","domain":[0.00001,1000],"nice":false},"axis":{"orient":"left","values":[0.0001,0.01,1,100],"labelPadding":14,"labelExpr":"'10' + ['⁻⁵','⁻⁴','⁻³','⁻²','⁻¹','⁰','¹','²','³','⁴','⁵','⁶','⁷'][round(log(datum.value) / LN10) + 5]","title":"1/(cm² s sr MeV/nuc.)","titleX":-46,"titleBaseline":"middle"}},
     "color":{"field":"k","type":"nominal","scale":{"domain":["a","b","c"],"range":["#000000","#0000ff","#ff0000"]},"legend":{"title":null,"orient":"none","legendX":-14,"legendY":-17,"direction":"horizontal","columnPadding":20,"labelExpr":"datum.value == 'a' ? '4 to 12 MeV/n He' : datum.value == 'b' ? '4 to 12 MeV/n CNO' : '4 to 12 MeV Fe'","labelColor":{"expr":"datum.value == 'a' ? '#000000' : datum.value == 'b' ? '#0000ff' : '#ff0000'"}}}}},
   {"transform":[{"filter":"datum.k != 'a'"}],"mark":{"type":"square","size":6,"opacity":1,"clip":true},
    "encoding":{
     "x":{"field":"t","type":"quantitative","scale":{"domain":[0,24],"nice":false,"zero":false},"axis":{"orient":"top","values":[0,3,6,9,12,15,18,21,24],"labels":false,"title":null}},
     "y":{"field":"v","type":"quantitative","scale":{"type":"log","domain":[0.00001,1000],"nice":false},"axis":{"orient":"right","values":[0.0001,0.01,1,100],"labels":false,"title":null}},
     "color":{"field":"k","type":"nominal","scale":{"domain":["a","b","c"],"range":["#000000","#0000ff","#ff0000"]},"legend":null}}}
  ],
  "resolve":{"axis":{"x":"independent","y":"independent"}}},
 {"width":296,"height":179,"data":{"name":"r4R"},
  "transform":[{"fold":["a","b","c"],"as":["k","v"]},{"filter":"isValid(datum.v)"}],
  "layer":[
   {"transform":[{"filter":"datum.k == 'a'"}],"mark":{"type":"square","size":6,"opacity":1,"clip":true},
    "encoding":{
     "x":{"field":"t","type":"quantitative","scale":{"domain":[0,24],"nice":false,"zero":false},"axis":{"orient":"bottom","values":[0,3,6,9,12,15,18,21,24],"labelPadding":14,"labelExpr":"datum.value % 6 == 0 ? (datum.value == 6 ? '06' : datum.value == 12 ? '12' : datum.value == 18 ? '18' : '00') + ':00' : ''","title":"STEREO Ahead","titleAnchor":"end","titleAlign":"right","titleY":31,"titleBaseline":"middle"}},
     "y":{"field":"v","type":"quantitative","scale":{"type":"log","domain":[0.00001,1000],"nice":false},"axis":{"orient":"left","values":[0.0001,0.01,1,100],"labelPadding":14,"labelExpr":"'10' + ['⁻⁵','⁻⁴','⁻³','⁻²','⁻¹','⁰','¹','²','³','⁴','⁵','⁶','⁷'][round(log(datum.value) / LN10) + 5]","title":"1/(cm² s sr MeV/nuc.)","titleX":-46,"titleBaseline":"middle"}},
     "color":{"field":"k","type":"nominal","scale":{"domain":["a","b","c"],"range":["#000000","#0000ff","#ff0000"]},"legend":null}}},
   {"transform":[{"filter":"datum.k != 'a'"}],"mark":{"type":"square","size":6,"opacity":1,"clip":true},
    "encoding":{
     "x":{"field":"t","type":"quantitative","scale":{"domain":[0,24],"nice":false,"zero":false},"axis":{"orient":"top","values":[0,3,6,9,12,15,18,21,24],"labels":false,"title":null}},
     "y":{"field":"v","type":"quantitative","scale":{"type":"log","domain":[0.00001,1000],"nice":false},"axis":{"orient":"right","values":[0.0001,0.01,1,100],"labels":false,"title":null}},
     "color":{"field":"k","type":"nominal","scale":{"domain":["a","b","c"],"range":["#000000","#0000ff","#ff0000"]},"legend":null}}}
  ],
  "resolve":{"axis":{"x":"independent","y":"independent"}}}
],
"config": {
 "font": "DejaVu Sans",
 "view": {"stroke": null},
 "axis": {"domainColor": "#000000", "tickColor": "#000000", "labelColor": "#000000", "titleColor": "#000000", "labelFont": "DejaVu Sans", "titleFont": "DejaVu Sans", "labelFontSize": 13.5, "titleFontSize": 13.5, "titleFontWeight": "normal", "grid": false, "tickSize": -6, "labelFlush": false, "labelOverlap": false, "labelBound": false, "domainWidth": 1, "tickWidth": 1},
 "legend": {"labelFont": "DejaVu Sans", "labelFontSize": 13.5, "symbolSize": 0, "symbolOpacity": 0, "symbolStrokeWidth": 0, "symbolType": "circle", "labelOffset": 0, "labelLimit": 0, "padding": 0}
}
}
